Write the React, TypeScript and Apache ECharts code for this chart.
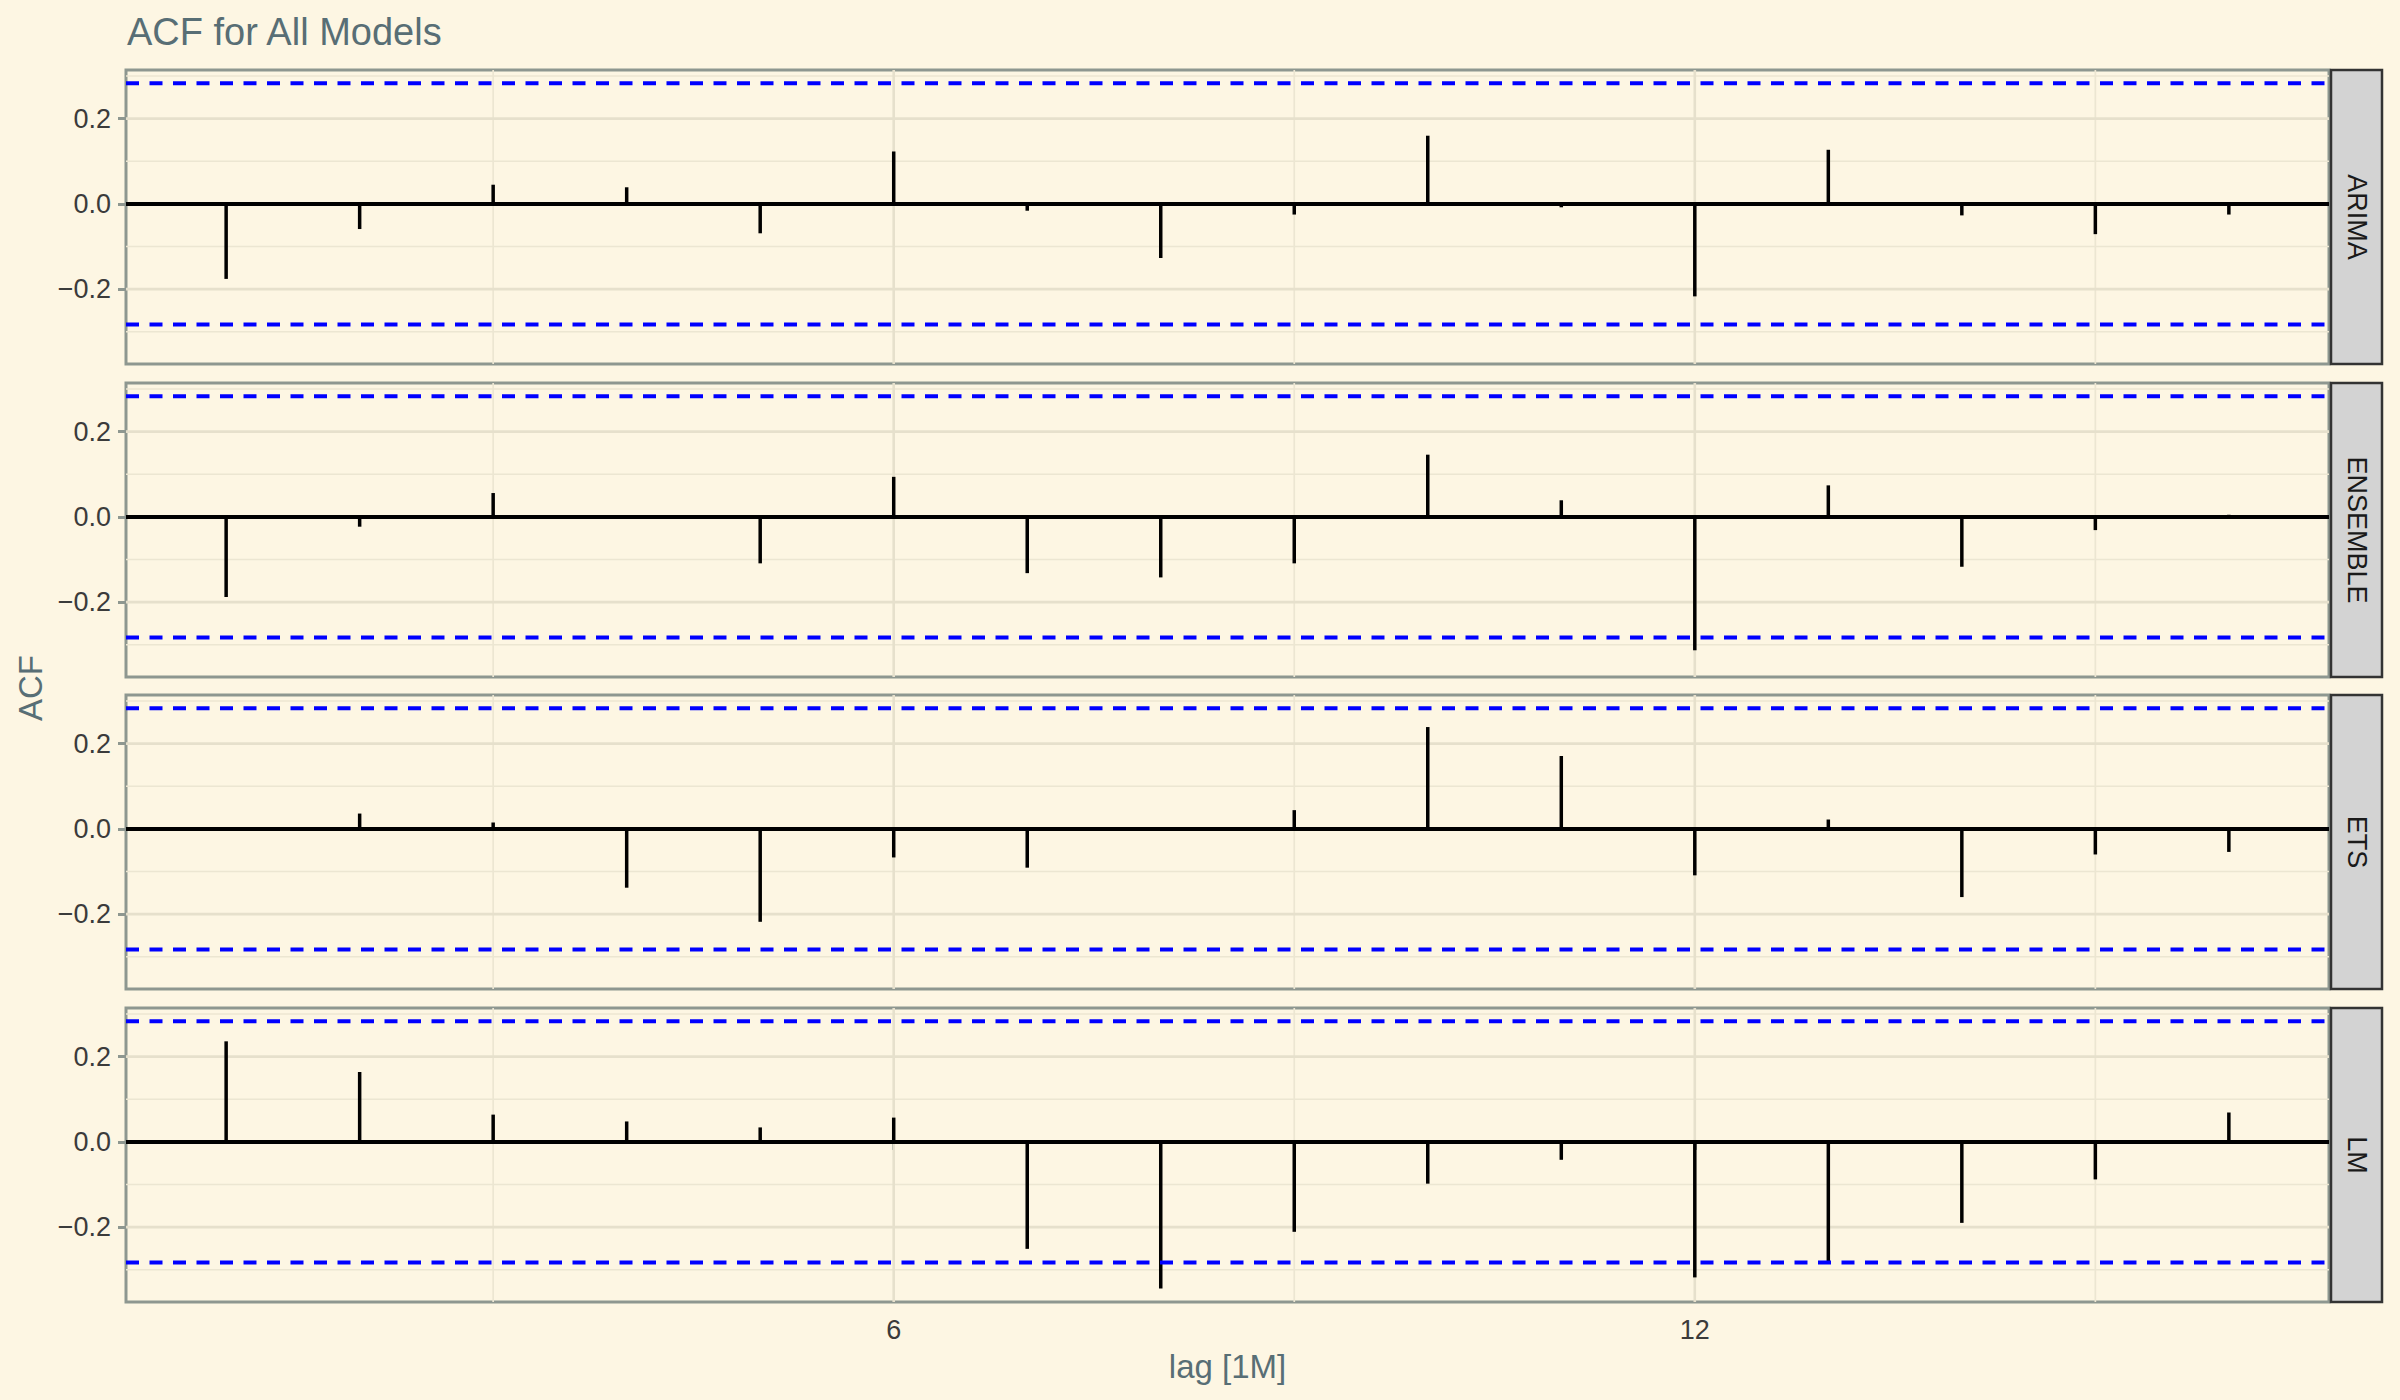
import React, { useEffect, useRef } from "react";
import * as echarts from "echarts";

// ---- data ----
const MODELS = ["ARIMA", "ENSEMBLE", "ETS", "LM"];
const LAGS = [1, 2, 3, 4, 5, 6, 7, 8, 9, 10, 11, 12, 13, 14, 15, 16];
const ACF_ARIMA = [-0.176, -0.059, 0.045, 0.039, -0.069, 0.123, -0.016, -0.127, -0.025, 0.16, -0.008, -0.217, 0.127, -0.027, -0.071, -0.025];
const ACF_ENSEMBLE = [-0.188, -0.023, 0.056, 0.002, -0.109, 0.094, -0.132, -0.142, -0.109, 0.146, 0.039, -0.313, 0.074, -0.117, -0.031, 0.005];
const ACF_ETS = [0.002, 0.036, 0.015, -0.138, -0.218, -0.067, -0.091, -0.004, 0.044, 0.239, 0.171, -0.109, 0.022, -0.16, -0.06, -0.054];
const ACF_LM = [0.236, 0.164, 0.064, 0.048, 0.034, 0.057, -0.251, -0.344, -0.211, -0.098, -0.042, -0.318, -0.281, -0.19, -0.088, 0.069];
const SERIES = [ACF_ARIMA, ACF_ENSEMBLE, ACF_ETS, ACF_LM];
const CI = 0.2829;
const X_RANGE = [0.25, 16.75];
const Y_RANGE = [-0.3757, 0.3142];
const Y_TICKS = [-0.2, 0, 0.2];
const X_TICKS = [6, 12];
const Y_GRID_MAJOR = [-0.2, 0, 0.2];
const Y_GRID_MINOR = [-0.3, -0.1, 0.1, 0.3];
const X_GRID_MAJOR = [6, 12];
const X_GRID_MINOR = [3, 9, 15];
const TITLE = "ACF for All Models";
const X_TITLE = "lag [1M]";
const Y_TITLE = "ACF";

// ---- layout / style ----
const BG = "#FDF6E3";
const GL = 126;
const GW = 2203;
const GH = 294;
const TOPS = [70, 383, 695, 1008];
const STRIP_X = 2331;
const STRIP_W = 51;
const FONT = "'Liberation Sans', Arial, Helvetica, sans-serif";
const GRID_MAJOR_COLOR = "#E6E0CC";
const GRID_MINOR_COLOR = "#ECE6D2";

const fmt = (v: number) => {
  const s = Math.abs(v) < 1e-9 ? "0.0" : v.toFixed(1);
  return s.replace("-", "\u2212");
};

export default function App() {
  const ref = useRef<HTMLDivElement>(null);
  useEffect(() => {
    if (!ref.current) return;
    const chart = echarts.init(ref.current, null, { renderer: "svg" });

    const grids: any[] = [];
    const xAxes: any[] = [];
    const yAxes: any[] = [];
    const series: any[] = [];
    const graphics: any[] = [];

    MODELS.forEach((m, i) => {
      const last = i === MODELS.length - 1;
      grids.push({
        left: GL,
        top: TOPS[i],
        width: GW,
        height: GH,
        show: true,
        backgroundColor: "transparent",
        borderColor: "#8E9790",
        borderWidth: 3,
        outerBoundsMode: "none",
      });
      xAxes.push({
        type: "value",
        gridIndex: i,
        min: X_RANGE[0],
        max: X_RANGE[1],
        axisLine: { show: false },
        splitLine: { show: false },
        axisTick: {
          show: last,
          customValues: X_TICKS,
          length: 8,
          lineStyle: { color: "#8E9790", width: 3 },
        },
        axisLabel: {
          show: last,
          customValues: X_TICKS,
          margin: 14,
          color: "#3B3B3B",
          fontSize: 27,
          fontFamily: FONT,
        },
      });
      yAxes.push({
        type: "value",
        gridIndex: i,
        min: Y_RANGE[0],
        max: Y_RANGE[1],
        axisLine: { show: false },
        splitLine: { show: false },
        axisTick: {
          show: true,
          customValues: Y_TICKS,
          length: 8,
          lineStyle: { color: "#8E9790", width: 3 },
        },
        axisLabel: {
          show: true,
          customValues: Y_TICKS,
          formatter: (v: number) => fmt(v),
          margin: 15,
          color: "#3B3B3B",
          fontSize: 27,
          fontFamily: FONT,
        },
      });

      const hLine = (vals: number[], color: string, width: number) => ({
        type: "custom",
        xAxisIndex: i,
        yAxisIndex: i,
        z: 1,
        silent: true,
        data: vals.map((v) => [X_RANGE[0], v, X_RANGE[1]]),
        encode: { x: [0, 2], y: 1 },
        renderItem: (_p: any, api: any) => {
          const a = api.coord([api.value(0), api.value(1)]);
          const b = api.coord([api.value(2), api.value(1)]);
          return {
            type: "line",
            shape: { x1: a[0], y1: a[1], x2: b[0], y2: b[1] },
            style: { stroke: color, lineWidth: width },
          };
        },
      });
      const vLine = (vals: number[], color: string, width: number) => ({
        type: "custom",
        xAxisIndex: i,
        yAxisIndex: i,
        z: 1,
        silent: true,
        data: vals.map((v) => [v, Y_RANGE[0], Y_RANGE[1]]),
        encode: { x: 0, y: [1, 2] },
        renderItem: (_p: any, api: any) => {
          const a = api.coord([api.value(0), api.value(1)]);
          const b = api.coord([api.value(0), api.value(2)]);
          return {
            type: "line",
            shape: { x1: a[0], y1: a[1], x2: b[0], y2: b[1] },
            style: { stroke: color, lineWidth: width },
          };
        },
      });
      series.push(hLine(Y_GRID_MINOR, GRID_MINOR_COLOR, 1.5));
      series.push(vLine(X_GRID_MINOR, GRID_MINOR_COLOR, 1.7));
      series.push(hLine(Y_GRID_MAJOR, GRID_MAJOR_COLOR, 2.8));
      series.push(vLine(X_GRID_MAJOR, GRID_MAJOR_COLOR, 2.6));

      // zero line
      series.push({
        type: "line",
        xAxisIndex: i,
        yAxisIndex: i,
        z: 2,
        silent: true,
        symbol: "none",
        data: [
          [X_RANGE[0], 0],
          [X_RANGE[1], 0],
        ],
        lineStyle: { color: "#000000", width: 4 },
      });
      // acf bars
      series.push({
        type: "custom",
        name: m,
        xAxisIndex: i,
        yAxisIndex: i,
        z: 3,
        data: LAGS.map((l, k) => [l, SERIES[i][k]]),
        encode: { x: 0, y: 1 },
        renderItem: (_p: any, api: any) => {
          const a = api.coord([api.value(0), 0]);
          const b = api.coord([api.value(0), api.value(1)]);
          return {
            type: "line",
            shape: { x1: a[0], y1: a[1], x2: b[0], y2: b[1] },
            style: { stroke: "#000000", lineWidth: 3.5 },
          };
        },
      });
      // confidence bounds
      [CI, -CI].forEach((c) => {
        series.push({
          type: "line",
          xAxisIndex: i,
          yAxisIndex: i,
          z: 4,
          silent: true,
          symbol: "none",
          data: [
            [X_RANGE[0], c],
            [X_RANGE[1], c],
          ],
          lineStyle: { color: "#0000FF", width: 4, type: [13, 10.5], cap: "butt" },
        });
      });

      // strip
      graphics.push({
        type: "rect",
        shape: { x: STRIP_X, y: TOPS[i], width: STRIP_W, height: GH },
        style: { fill: "#D3D3D3", stroke: "#333333", lineWidth: 2.5 },
        z: 10,
      });
      graphics.push({
        type: "text",
        x: STRIP_X + STRIP_W / 2,
        y: TOPS[i] + GH / 2,
        rotation: -Math.PI / 2,
        style: {
          text: m,
          fill: "#1A1A1A",
          font: `27px ${FONT}`,
          align: "center",
          verticalAlign: "middle",
        },
        z: 11,
      });
    });

    graphics.push({
      type: "text",
      x: 127,
      y: 32,
      style: {
        text: TITLE,
        fill: "#586E75",
        font: `38px ${FONT}`,
        align: "left",
        verticalAlign: "middle",
      },
    });
    graphics.push({
      type: "text",
      x: GL + GW / 2,
      y: 1366,
      style: {
        text: X_TITLE,
        fill: "#586E75",
        font: `33px ${FONT}`,
        align: "center",
        verticalAlign: "middle",
      },
    });
    graphics.push({
      type: "text",
      x: 30,
      y: 688,
      rotation: Math.PI / 2,
      style: {
        text: Y_TITLE,
        fill: "#586E75",
        font: `33px ${FONT}`,
        align: "center",
        verticalAlign: "middle",
      },
    });

    chart.setOption({
      animation: false,
      backgroundColor: BG,
      grid: grids,
      xAxis: xAxes,
      yAxis: yAxes,
      series,
      graphic: graphics,
    });
    return () => chart.dispose();
  }, []);
  return (
    <div
      ref={ref}
      style={{ position: "fixed", left: 0, top: 0, width: 2400, height: 1400 }}
    />
  );
}
